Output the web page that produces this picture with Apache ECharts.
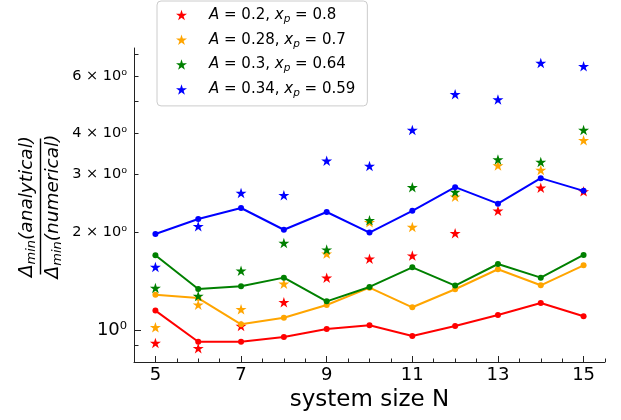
<!DOCTYPE html>
<html><head><meta charset="utf-8">
<script src="https://cdn.jsdelivr.net/npm/echarts@6/dist/echarts.min.js"></script>
<style>html,body{margin:0;padding:0;background:#fff}#c{width:621px;height:420px}</style>
</head><body><div id="c"></div>
<script>
// ---- data ----
const N = [5, 6, 7, 8, 9, 10, 11, 12, 13, 14, 15];
const redLine    = [1.149, 0.923, 0.923, 0.954, 1.009, 1.036, 0.961, 1.031, 1.114, 1.212, 1.104];
const redStars   = [0.915, 0.881, 1.031, 1.218, 1.449, 1.656, 1.692, 1.98, 2.32, 2.73, 2.66];
const orangeLine = [1.285, 1.255, 1.043, 1.093, 1.195, 1.350, 1.176, 1.335, 1.537, 1.373, 1.58];
const orangeStars= [1.021, 1.198, 1.159, 1.389, 1.716, 2.14, 2.07, 2.56, 3.19, 3.09, 3.81];
const greenLine  = [1.696, 1.338, 1.363, 1.449, 1.226, 1.357, 1.558, 1.370, 1.595, 1.449, 1.70];
const greenStars = [1.347, 1.273, 1.522, 1.849, 1.765, 2.17, 2.74, 2.65, 3.33, 3.27, 4.10];
const blueLine   = [1.970, 2.19, 2.366, 2.03, 2.30, 1.99, 2.32, 2.74, 2.44, 2.92, 2.67];
const blueStars  = [1.562, 2.08, 2.63, 2.59, 3.30, 3.18, 4.10, 5.27, 5.08, 6.57, 6.42];
const paramA  = ['0.2', '0.28', '0.3', '0.34'];
const paramXp = ['0.8', '0.7', '0.64', '0.59'];
const xLabelTicks = [5, 7, 9, 11, 13, 15];
const xMinorTicks = [5.5, 6, 6.5, 7.5, 8, 8.5, 9.5, 10, 10.5, 11.5, 12, 12.5, 13.5, 14, 14.5, 15.5];
const yLabelTicks = [1, 2, 3, 4, 6];
const yMajorTicks = [1];
const yMinorTicks = [0.9, 2, 3, 4, 5, 6, 7];

// ---- styling ----
const colors = ['#ff0000', '#ffa500', '#008000', '#0000ff'];
const lines = [redLine, orangeLine, greenLine, blueLine];
const stars = [redStars, orangeStars, greenStars, blueStars];
const STAR = 'path://M100,0 L122.45,69.1 L195.1,69.1 L136.33,111.8 L158.78,180.9 L100,138.2 L41.22,180.9 L63.67,111.8 L4.9,69.1 L77.55,69.1 Z';
const FONT = 'DejaVu Sans';
const names = paramA.map((a, i) => 'A=' + a + ',xp=' + paramXp[i]);
const pair = arr => N.map((n, i) => [n, arr[i]]);

const series = [];
for (let k = 0; k < 4; k++) {
  series.push({
    type: 'line', name: 'line' + k, data: pair(lines[k]),
    xAxisIndex: 0, yAxisIndex: 0,
    symbol: 'circle', symbolSize: 6, showSymbol: true,
    lineStyle: { color: colors[k], width: 2 },
    itemStyle: { color: colors[k], opacity: 1 }, z: 2 + k * 2
  });
  series.push({
    type: 'scatter', name: names[k], data: pair(stars[k]),
    xAxisIndex: 0, yAxisIndex: 0,
    symbol: STAR, symbolSize: [11, 10.5],
    itemStyle: { color: colors[k], opacity: 1 }, z: 3 + k * 2
  });
}

const axisLineStyle = { color: '#222', width: 1 };
const gridPos = { left: 134, right: 16, top: 48, bottom: 58 };
const subRich = {
  t: { fontFamily: FONT, fontSize: 15, color: '#000' },
  i: { fontFamily: FONT, fontSize: 15, fontStyle: 'italic', color: '#000' },
  s: { fontFamily: FONT, fontSize: 10.5, fontStyle: 'italic', color: '#000', padding: [8, 0, 0, 0] }
};
const titleRich = {
  d: { fontFamily: FONT, fontSize: 18.5, fontStyle: 'italic', color: '#000' },
  s: { fontFamily: FONT, fontSize: 13, fontStyle: 'italic', color: '#000', padding: [9, 0, 0, 0] }
};

const option = {
  animation: false,
  backgroundColor: '#fff',
  grid: [Object.assign({}, gridPos), Object.assign({}, gridPos)],
  legend: {
    data: names, orient: 'vertical', left: 157, top: 1,
    padding: [5, 12, 7, 19], itemGap: 6.3, itemWidth: 11, itemHeight: 11,
    backgroundColor: 'rgba(255,255,255,0.85)', borderColor: '#cccccc', borderWidth: 1, borderRadius: 4,
    formatter: function (name) {
      const k = names.indexOf(name);
      return '{i|A}{t| = ' + paramA[k] + ', }{i|x}{s|p}{t| = ' + paramXp[k] + '}';
    },
    textStyle: { fontFamily: FONT, fontSize: 15, color: '#000', lineHeight: 18, padding: [0, 0, 0, 17], rich: subRich },
    z: 20
  },
  xAxis: [{
    type: 'value', gridIndex: 0, min: 4.5, max: 15.5,
    axisLine: { show: true, lineStyle: axisLineStyle },
    axisTick: { show: true, inside: true, length: 6, customValues: xLabelTicks, lineStyle: axisLineStyle },
    axisLabel: { customValues: xLabelTicks, fontFamily: FONT, fontSize: 18, color: '#000', margin: 4 },
    splitLine: { show: false },
    name: 'system size N', nameLocation: 'middle', nameGap: 26,
    nameTextStyle: { fontFamily: FONT, fontSize: 23, color: '#000' }
  }, {
    type: 'value', gridIndex: 1, min: 4.5, max: 15.5,
    axisLine: { show: false },
    axisTick: { show: true, inside: true, length: 3.5, customValues: xMinorTicks, lineStyle: axisLineStyle },
    axisLabel: { show: false }, splitLine: { show: false }
  }],
  yAxis: [{
    type: 'log', logBase: 10, gridIndex: 0, min: 0.8, max: 7.3,
    axisLine: { show: true, lineStyle: axisLineStyle },
    axisTick: { show: true, inside: true, length: 7, customValues: yMajorTicks, lineStyle: axisLineStyle },
    axisLabel: {
      customValues: yLabelTicks, margin: 7, color: '#000',
      formatter: function (v) {
        const r = Math.round(v);
        return r === 1 ? '{maj|10⁰}' : '{mn|' + r + ' × 10⁰}';
      },
      rich: {
        maj: { fontFamily: FONT, fontSize: 18, color: '#000' },
        mn: { fontFamily: FONT, fontSize: 14.5, color: '#000' }
      }
    },
    splitLine: { show: false }, minorSplitLine: { show: false }
  }, {
    type: 'log', logBase: 10, gridIndex: 1, min: 0.8, max: 7.3,
    axisLine: { show: false },
    axisTick: { show: true, inside: true, length: 4.5, customValues: yMinorTicks, lineStyle: axisLineStyle },
    axisLabel: { show: false }, splitLine: { show: false }
  }],
  graphic: [{
    type: 'group', x: 40.5, y: 206.5, rotation: Math.PI / 2,
    children: [
      { type: 'text', x: 0, y: -13, style: { text: '{d|Δ}{s|min}{d|(analytical)}', rich: titleRich, align: 'center', verticalAlign: 'middle' } },
      { type: 'line', shape: { x1: -68, y1: 0, x2: 68, y2: 0 }, style: { stroke: '#000', lineWidth: 1.4 } },
      { type: 'text', x: 0, y: 13, style: { text: '{d|Δ}{s|min}{d|(numerical)}', rich: titleRich, align: 'center', verticalAlign: 'middle' } }
    ]
  }],
  series: series
};
const chart = echarts.init(document.getElementById('c'), null, { renderer: 'canvas' });
chart.setOption(option);
</script>
</body></html>
